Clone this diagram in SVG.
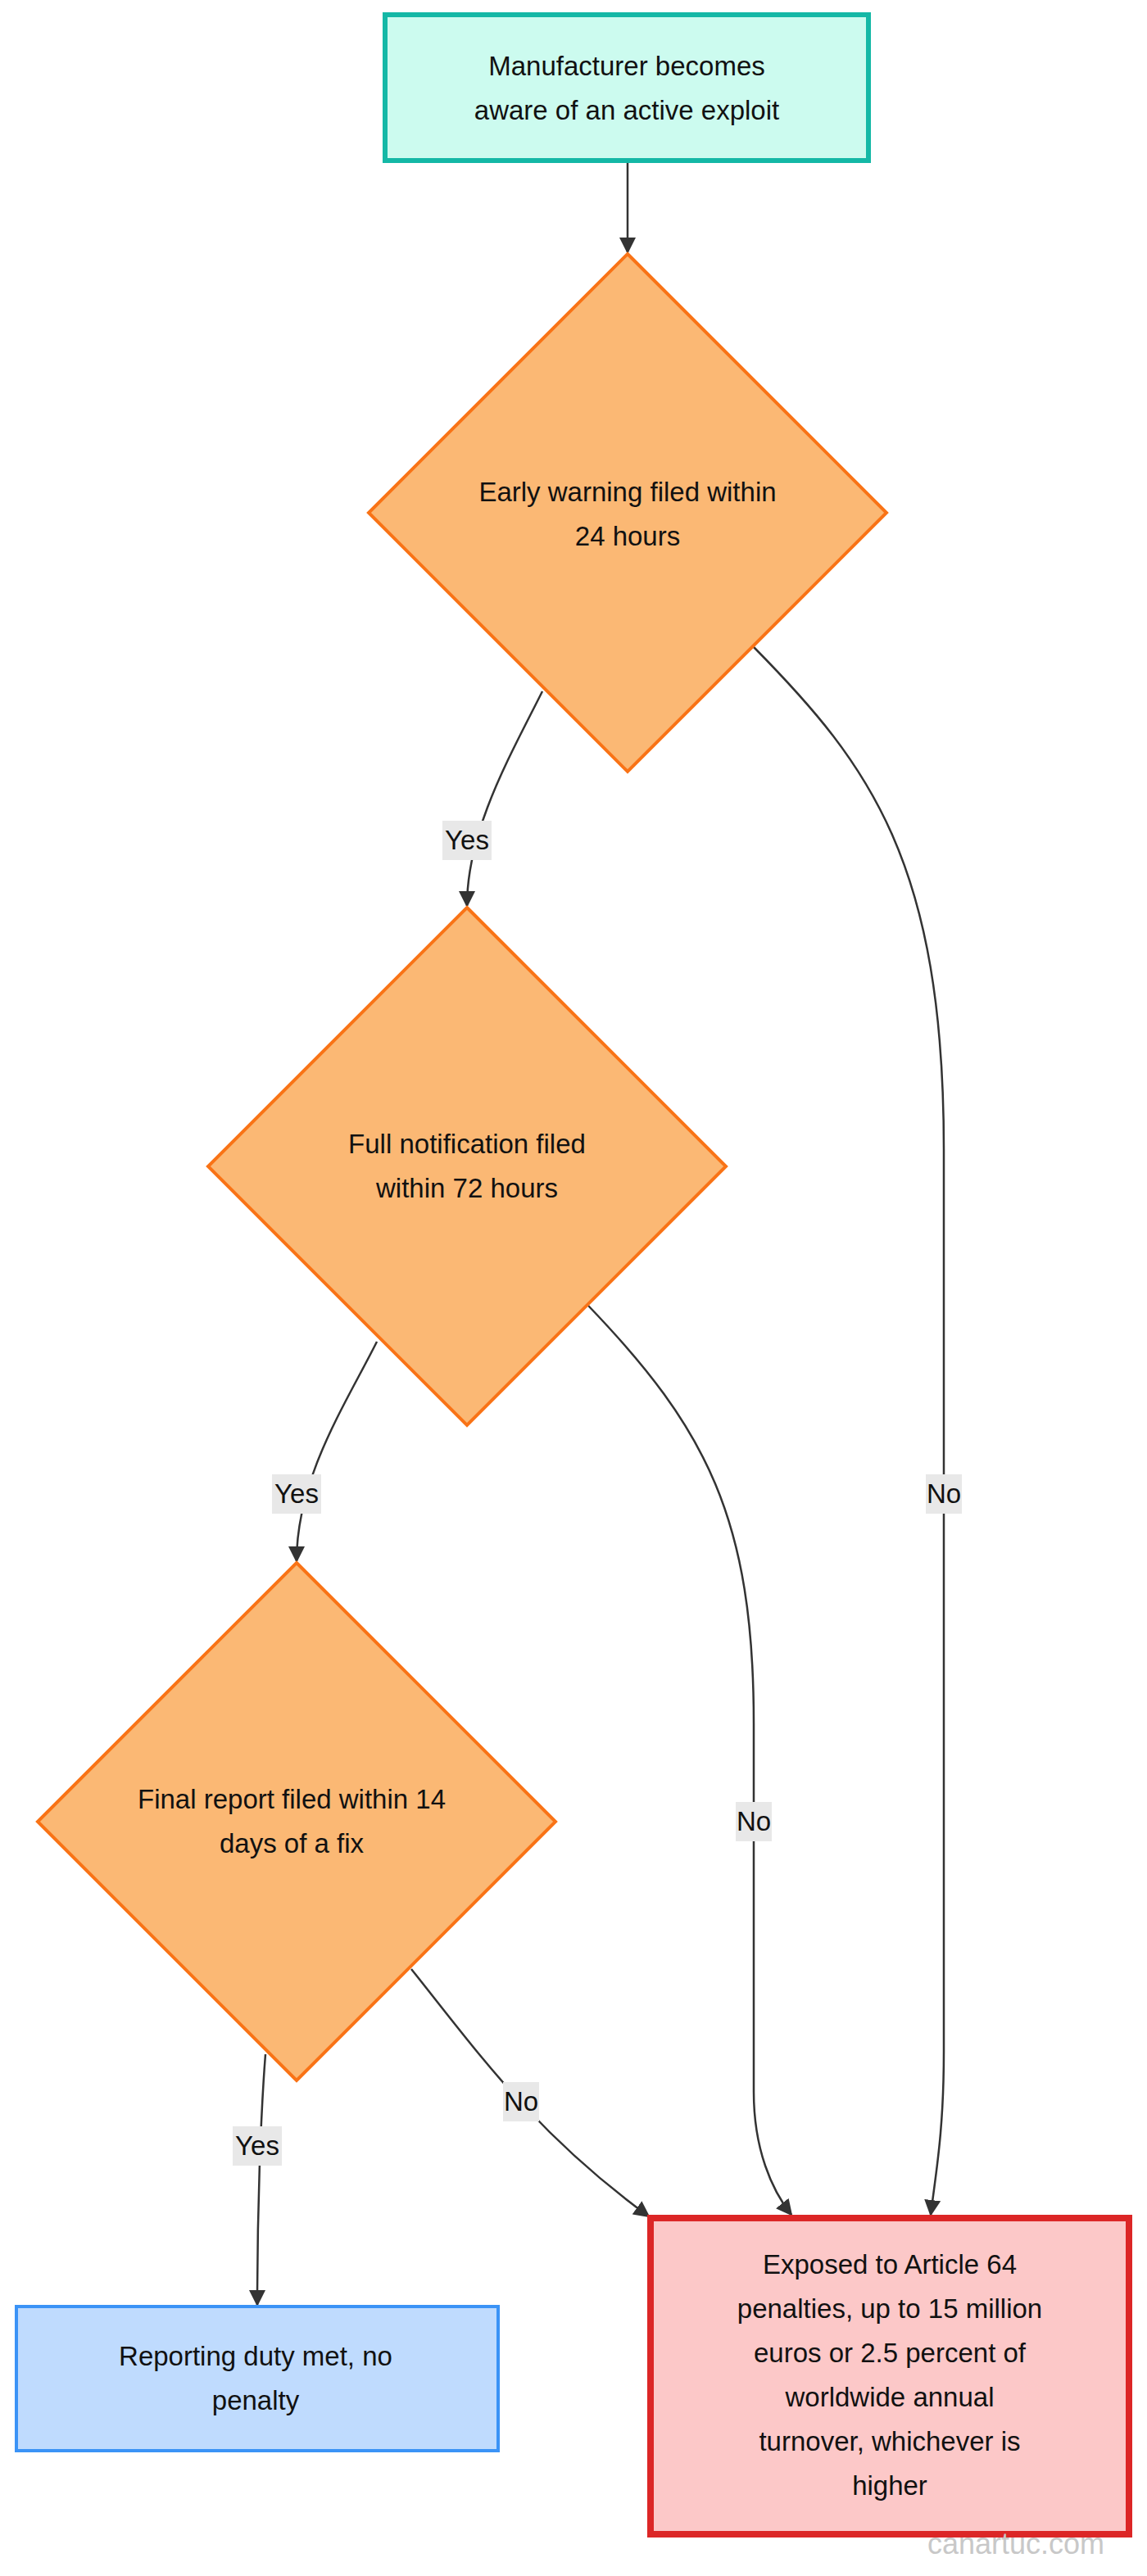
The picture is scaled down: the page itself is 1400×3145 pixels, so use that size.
<svg xmlns="http://www.w3.org/2000/svg" width="1400" height="3145" viewBox="0 0 1400 3145">
<style>
text{font-family:"Liberation Sans",Arial,sans-serif;font-size:33px;fill:#111;text-anchor:middle}
.e{fill:none;stroke:#333;stroke-width:2.5}
.lb{fill:#e8e8e8}
.d{fill:#fbb874;stroke:#f97316;stroke-width:4}
</style>
<defs>
<marker id="ah" viewBox="0 0 10 10" refX="9" refY="5" markerWidth="20" markerHeight="20" orient="auto" markerUnits="userSpaceOnUse"><path d="M0,0L10,5L0,10z" fill="#333"/></marker></defs>
<rect width="1400" height="3145" fill="#fff"/>
<g id="edges">
<path class="e" d="M766,198V308" marker-end="url(#ah)"/>
<path class="e" d="M662,844C622,924 570,1014 570,1106" marker-end="url(#ah)"/>
<path class="e" d="M920,790C1062,934 1152,1054 1152,1404V2504C1152,2604 1142,2654 1136,2704" marker-end="url(#ah)"/>
<path class="e" d="M460,1638C422,1714 362,1804 362,1906" marker-end="url(#ah)"/>
<path class="e" d="M718,1594C862,1744 920,1854 920,2104V2554C920,2624 942,2674 966,2704" marker-end="url(#ah)"/>
<path class="e" d="M324,2508C318,2584 314,2704 314,2814" marker-end="url(#ah)"/>
<path class="e" d="M502,2404C582,2504 652,2604 792,2706" marker-end="url(#ah)"/>
<rect class="lb" x="540" y="1002" width="60" height="48"/><text x="570" y="1037">Yes</text>
<rect class="lb" x="1130" y="1800" width="44" height="48"/><text x="1152" y="1835">No</text>
<rect class="lb" x="332" y="1800" width="60" height="48"/><text x="362" y="1835">Yes</text>
<rect class="lb" x="898" y="2200" width="44" height="48"/><text x="920" y="2235">No</text>
<rect class="lb" x="284" y="2596" width="60" height="48"/><text x="314" y="2631">Yes</text>
<rect class="lb" x="614" y="2542" width="44" height="48"/><text x="636" y="2577">No</text>
</g>
<g id="start"><rect x="470" y="18" width="590" height="178" fill="#ccfbef" stroke="#14b8a6" stroke-width="6"/>
<text x="765" y="92">Manufacturer becomes</text><text x="765" y="146">aware of an active exploit</text></g>
<g id="d1"><polygon class="d" points="766,310 1082,626 766,942 450,626"/>
<text x="766" y="612">Early warning filed within</text><text x="766" y="666">24 hours</text></g>
<g id="d2"><polygon class="d" points="570,1108 886,1424 570,1740 254,1424"/>
<text x="570" y="1408">Full notification filed</text><text x="570" y="1462">within 72 hours</text></g>
<g id="d3"><polygon class="d" points="362,1908 678,2224 362,2540 46,2224"/>
<text x="356" y="2208">Final report filed within 14</text><text x="356" y="2262">days of a fix</text></g>
<g id="ok"><rect x="20" y="2816" width="588" height="176" fill="#bfdbfe" stroke="#3b93f6" stroke-width="4"/>
<text x="312" y="2888">Reporting duty met, no</text><text x="312" y="2942">penalty</text></g>
<g id="pen"><rect x="794" y="2708" width="584" height="386" fill="#fcc8c8" stroke="#dc2626" stroke-width="8"/>
<text x="1086" y="2776">Exposed to Article 64</text>
<text x="1086" y="2830">penalties, up to 15 million</text>
<text x="1086" y="2884">euros or 2.5 percent of</text>
<text x="1086" y="2938">worldwide annual</text>
<text x="1086" y="2992">turnover, whichever is</text>
<text x="1086" y="3046">higher</text></g>
<text x="1240" y="3118" style="fill:#c8c8c8;font-size:36px">canartuc.com</text>
</svg>
